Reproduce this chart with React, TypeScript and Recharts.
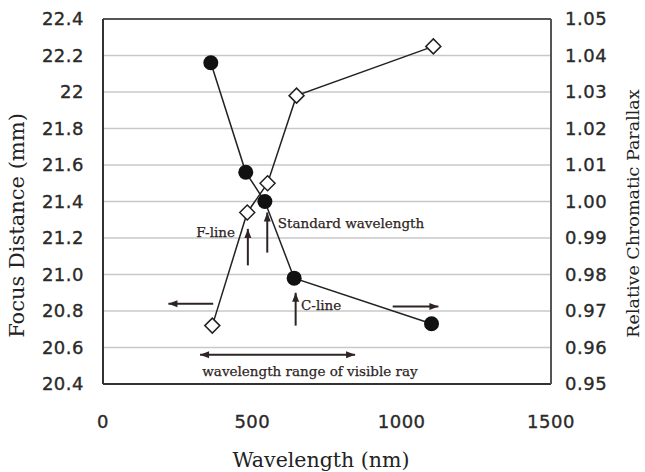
import { LineChart, Line, XAxis, YAxis, CartesianGrid, ReferenceLine, ReferenceDot } from "recharts";

// focus distance (filled circles, left axis)
const focusWavelength = [361, 478, 542, 640, 1100];
const focusDistance = [22.16, 21.56, 21.4, 20.98, 20.73];

// relative chromatic parallax (open diamonds, right axis)
const parallaxWavelength = [366, 483, 551, 648, 1106];
const parallaxValue = [0.966, 0.997, 1.005, 1.029, 1.0425];

const xTicks = [0, 500, 1000, 1500];
const leftTicks = [20.4, 20.6, 20.8, 21.0, 21.2, 21.4, 21.6, 21.8, 22.0, 22.2, 22.4];
const leftTickLabels = ["20.4", "20.6", "20.8", "21.0", "21.2", "21.4", "21.6", "21.8", "22", "22.2", "22.4"];
const rightTicks = [0.95, 0.96, 0.97, 0.98, 0.99, 1.0, 1.01, 1.02, 1.03, 1.04, 1.05];

// annotations, in wavelength / focus distance units
const arrowStartX = [485, 550, 645, 369, 970, 325];
const arrowStartY = [21.05, 21.12, 20.72, 20.84, 20.825, 20.56];
const arrowEndX = [485, 550, 645, 219, 1123, 844];
const arrowEndY = [21.25, 21.34, 20.9, 20.84, 20.825, 20.56];
const arrowBothEnds = [false, false, false, false, false, true];

const noteText = ["F-line", "Standard wavelength", "C-line", "wavelength range of visible ray"];
const noteX = [442, 585, 663, 693];
const noteY = [21.23, 21.28, 20.83, 20.47];
const noteAnchor = ["end", "start", "start", "middle"];

const focusData = focusWavelength.map((w, i) => ({ w, focus: focusDistance[i] }));
const parallaxData = parallaxWavelength.map((w, i) => ({ w, parallax: parallaxValue[i] }));

const ink = "#2e2424";
const serif = "'DejaVu Serif', serif";
const sans = "'DejaVu Sans', sans-serif";
const tickStyle = { fill: "#2a2a2a", stroke: "#2a2a2a", strokeWidth: 0.35, fontSize: 18, fontFamily: sans, letterSpacing: 0.5 };

function head(x: number, y: number, ux: number, uy: number) {
    const len = 9, half = 3.5;
    const bx = x - ux * len, by = y - uy * len;
    return `${x},${y} ${bx - uy * half},${by + ux * half} ${bx + uy * half},${by - ux * half}`;
}

const arrowShape = (both: boolean) => (p: any) => {
    const { x1, y1, x2, y2 } = p;
    const d = Math.hypot(x2 - x1, y2 - y1) || 1;
    const ux = (x2 - x1) / d, uy = (y2 - y1) / d;
    return (
        <g>
            <line x1={x1} y1={y1} x2={x2} y2={y2} stroke={ink} strokeWidth={2} />
            <polygon points={head(x2, y2, ux, uy)} fill={ink} />
            {both && <polygon points={head(x1, y1, -ux, -uy)} fill={ink} />}
        </g>
    );
};

const CircleDot = (p: any) => <circle cx={p.cx} cy={p.cy} r={7.5} fill="#111" />;
const DiamondDot = (p: any) => {
    const s = 7.5;
    return (
        <polygon
            points={`${p.cx},${p.cy - s} ${p.cx + s},${p.cy} ${p.cx},${p.cy + s} ${p.cx - s},${p.cy}`}
            fill="#fff"
            stroke="#222"
            strokeWidth={1.5}
        />
    );
};

export default function App() {
    return (
        <div style={{ position: "absolute", left: 0, top: 0, background: "#fff" }}>
            <LineChart width={645} height={472} margin={{ top: 19, right: 34, bottom: 28, left: 43 }}>
                <CartesianGrid yAxisId="left" vertical={false} stroke="#c8c8c8" strokeWidth={1.5} />
                <XAxis
                    dataKey="w"
                    type="number"
                    domain={[0, 1500]}
                    ticks={xTicks}
                    height={60}
                    tickSize={0}
                    tickMargin={31}
                    tick={tickStyle}
                    axisLine={{ stroke: "#333", strokeWidth: 2 }}
                    label={{
                        content: (p: any) => {
                            const vb = p.viewBox;
                            return (
                                <text x={vb.x + vb.width / 2 - 6} y={467} textAnchor="middle" fontFamily={serif} fontSize={20.5} fill="#222">
                                    Wavelength (nm)
                                </text>
                            );
                        }
                    }}
                />
                <YAxis
                    yAxisId="left"
                    type="number"
                    domain={[20.4, 22.4]}
                    ticks={leftTicks}
                    width={60}
                    tickSize={0}
                    tickMargin={19}
                    tick={tickStyle}
                    tickFormatter={(v: number) => leftTickLabels[leftTicks.indexOf(v)] ?? String(v)}
                    axisLine={{ stroke: "#333", strokeWidth: 2 }}
                    label={{
                        content: (p: any) => {
                            const vb = p.viewBox;
                            const cx = vb.x - 26, cy = vb.y + vb.height / 2 + 24;
                            return (
                                <text x={cx} y={cy} transform={`rotate(-90 ${cx} ${cy})`} textAnchor="middle" dominantBaseline="central" fontFamily={serif} fontSize={21} fill="#222">
                                    Focus Distance (mm)
                                </text>
                            );
                        }
                    }}
                />
                <YAxis
                    yAxisId="right"
                    orientation="right"
                    type="number"
                    domain={[0.95, 1.05]}
                    ticks={rightTicks}
                    width={60}
                    tickSize={0}
                    tickMargin={14}
                    tick={tickStyle}
                    tickFormatter={(v: number) => v.toFixed(2)}
                    axisLine={{ stroke: "#555", strokeWidth: 2 }}
                    label={{
                        content: (p: any) => {
                            const vb = p.viewBox;
                            const cx = vb.x + vb.width + 21.5, cy = vb.y + vb.height / 2 + 12;
                            return (
                                <text x={cx} y={cy} transform={`rotate(-90 ${cx} ${cy})`} textAnchor="middle" dominantBaseline="central" fontFamily={serif} fontSize={17.5} fill="#222">
                                    Relative Chromatic Parallax
                                </text>
                            );
                        }
                    }}
                />
                <ReferenceLine yAxisId="left" y={22.4} stroke="#555" strokeWidth={2} />

                {arrowStartX.map((x, i) => (
                    <ReferenceLine
                        key={"a" + i}
                        yAxisId="left"
                        segment={[{ x, y: arrowStartY[i] }, { x: arrowEndX[i], y: arrowEndY[i] }]}
                        shape={arrowShape(arrowBothEnds[i])}
                    />
                ))}
                {noteText.map((t, i) => (
                    <ReferenceDot
                        key={"n" + i}
                        yAxisId="left"
                        x={noteX[i]}
                        y={noteY[i]}
                        r={0}
                        shape={(p: any) => (
                            <text x={p.cx} y={p.cy} dy="0.35em" textAnchor={noteAnchor[i] as any} fontFamily={serif} fontSize={13.5} fill={ink} stroke={ink} strokeWidth={0.25}>
                                {t}
                            </text>
                        )}
                    />
                ))}

                <Line
                    yAxisId="left"
                    data={focusData}
                    dataKey="focus"
                    stroke="#222"
                    strokeWidth={1.5}
                    dot={<CircleDot />}
                    activeDot={false}
                    isAnimationActive={false}
                />
                <Line
                    yAxisId="right"
                    data={parallaxData}
                    dataKey="parallax"
                    stroke="#222"
                    strokeWidth={1.5}
                    dot={<DiamondDot />}
                    activeDot={false}
                    isAnimationActive={false}
                />
            </LineChart>
        </div>
    );
}
